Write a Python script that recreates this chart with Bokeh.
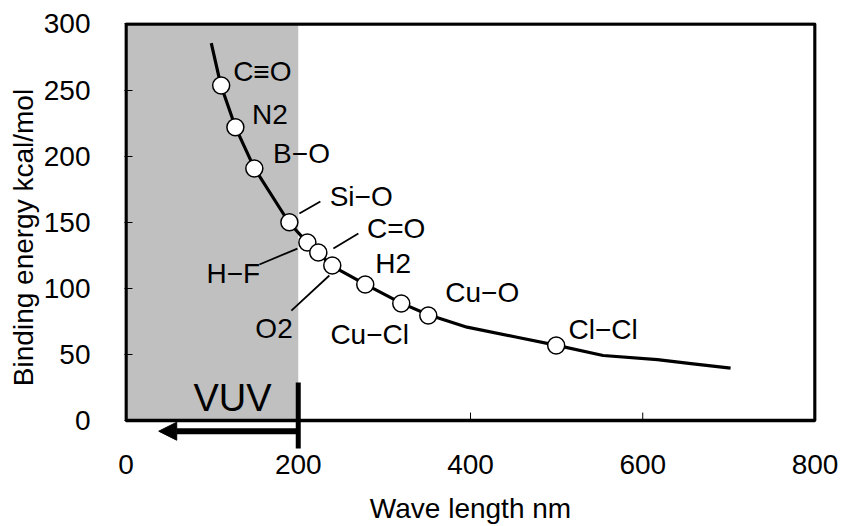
from bokeh.plotting import figure
from bokeh.models import Range1d, FixedTicker, Arrow, NormalHead, ColumnDataSource
from bokeh.embed import file_html
from bokeh.resources import INLINE
from bokeh.core.properties import value

# ---- data ----
curve_x = [99, 110, 127, 149, 189, 210, 223, 239, 278, 319, 351, 396, 454, 499, 554, 617, 656, 702]
curve_y = [285.5, 254, 222, 191, 150, 135, 127, 117, 103, 89, 80, 70.6, 63, 57, 49.2, 46.1, 43.1, 39.6]

bond_names = ["C≡O", "N2", "B−O", "Si−O", "H−F", "C=O", "O2", "H2", "Cu−Cl", "Cu−O", "Cl−Cl"]
bond_wave = [110.5, 127, 149, 189.7, 210.6, 223.3, 239.5, 277.8, 319.6, 351, 499.5]
bond_energy = [253.5, 221.9, 190.7, 150, 134.7, 127.1, 117.3, 102.9, 88.5, 79.4, 56.7]

x_ticks = [0, 200, 400, 600, 800]
y_ticks = [0, 50, 100, 150, 200, 250, 300]
x_min, x_max = 0, 800
y_min, y_max = 0, 300
vuv_limit = 200

# ---- layout (label placement) ----
label_x = [124.4, 146.4, 170.8, 236.5, 93.4, 279.8, 150.2, 289.5, 237.3, 370.7, 513.8]
label_y = [264.3, 231.5, 201.8, 169.7, 111, 145, 69.4, 118.6, 65.3, 97.1, 69.1]
leader_x0 = [201.3, 240.8, 154.9, 192]
leader_y0 = [156.6, 130.1, 118, 83.2]
leader_x1 = [225.7, 269.8, 199, 236.1]
leader_y1 = [165.7, 141.5, 130.1, 109.7]

FONT = "Liberation Sans"

p = figure(width=842, height=526, output_backend="svg", toolbar_location=None,
           x_range=Range1d(-1.75, 801.75), y_range=Range1d(-24.21, 301.13),
           min_border_left=124, min_border_right=26, min_border_top=22, min_border_bottom=74)
p.background_fill_color = "white"
p.border_fill_color = "white"
p.grid.visible = False
p.outline_line_color = None

# VUV shaded region
p.quad(left=[x_min], right=[vuv_limit], bottom=[y_min], top=[y_max],
       fill_color="#c0c0c0", line_color=None)

# plot box
p.quad(left=[x_min], right=[x_max], bottom=[y_min], top=[y_max],
       fill_color=None, line_color="black", line_width=3.5)

# inward x ticks on the box bottom
p.segment(x0=x_ticks, y0=[y_min] * len(x_ticks), x1=x_ticks, y1=[y_min + 6] * len(x_ticks),
          line_color="black", line_width=1)

# curve
p.line(curve_x, curve_y, line_color="black", line_width=3.2)

# leader lines
p.segment(x0=leader_x0, y0=leader_y0, x1=leader_x1, y1=leader_y1, line_color="black", line_width=1.8)

# points
p.scatter(bond_wave, bond_energy, size=17, marker="circle", fill_color="white",
          line_color="black", line_width=1.5)

# bond labels
src = ColumnDataSource(dict(x=label_x, y=label_y, t=bond_names))
p.text(x="x", y="y", text="t", source=src, text_font=value(FONT), text_font_size="28px",
       text_align="left", text_baseline="middle", text_color="black")

# VUV text
p.text(x=[78.3], y=[17], text=["VUV"], text_font=value(FONT), text_font_size="38px",
       text_align="left", text_baseline="middle", text_color="black")

# VUV boundary line and arrow
p.segment(x0=[vuv_limit], y0=[28.8], x1=[vuv_limit], y1=[-21.2], line_color="black", line_width=5)
p.add_layout(Arrow(end=NormalHead(size=18, fill_color="black", line_color="black"),
                   x_start=vuv_limit, y_start=-8.1, x_end=38, y_end=-8.1,
                   line_color="black", line_width=6))

# axes
p.xaxis.ticker = FixedTicker(ticks=x_ticks)
p.yaxis.ticker = FixedTicker(ticks=y_ticks)
for ax in (p.xaxis, p.yaxis):
    ax.axis_line_color = None
    ax.minor_tick_line_color = None
    ax.major_tick_line_color = "black"
    ax.major_label_text_font = FONT
    ax.major_label_text_font_size = "28px"
    ax.major_label_text_color = "black"
    ax.axis_label_text_font = FONT
    ax.axis_label_text_font_size = "28px"
    ax.axis_label_text_font_style = "normal"
    ax.axis_label_text_color = "black"
p.yaxis.major_tick_in = 8
p.yaxis.major_tick_out = 0
p.xaxis.major_tick_in = 0
p.xaxis.major_tick_out = 0
p.xaxis.major_label_standoff = 2
p.yaxis.major_label_standoff = 34

p.yaxis.axis_label = "Binding energy kcal/mol"
p.yaxis.axis_label_standoff = 2
p.xaxis.axis_label = "Wave length nm"
p.xaxis.axis_label_standoff = 16

open("out.html", "w").write(file_html(p, INLINE))
